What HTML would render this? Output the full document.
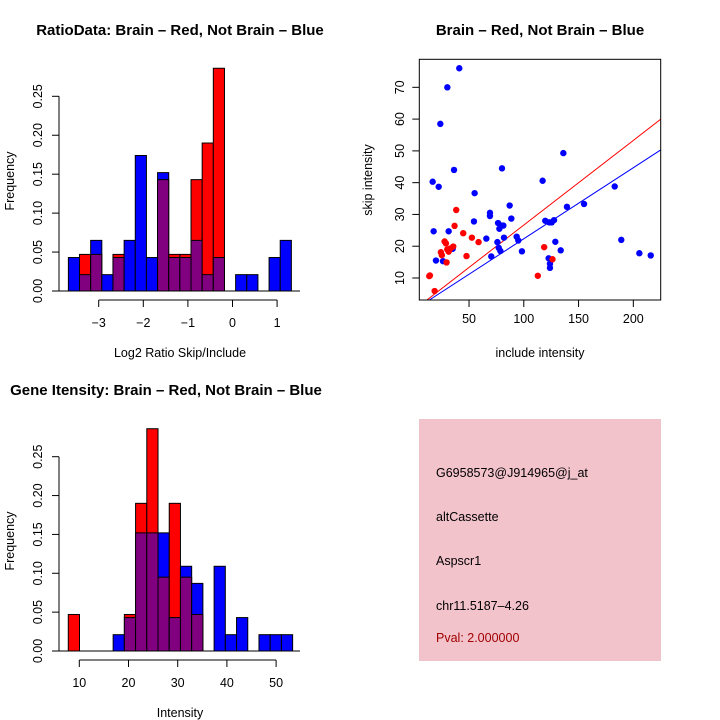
<!DOCTYPE html>
<html><head><meta charset="utf-8"><style>
html,body{margin:0;padding:0;background:#fff;}
svg{display:block;font-family:"Liberation Sans",sans-serif;}
</style></head><body>
<svg id="c" width="720" height="720" viewBox="0 0 720 720">
<rect width="720" height="720" fill="#fff"/>
<g id="h1"></g>
<g id="sc"></g>
<g id="h2"></g>
<g>
<rect x="419" y="419" width="242" height="242" fill="#f3c3cc"/>
<g font-size="12.5">
<text x="436" y="477" fill="#000">G6958573@J914965@j_at</text>
<text x="436" y="521" fill="#000">altCassette</text>
<text x="436" y="565" fill="#000">Aspscr1</text>
<text x="436" y="610" fill="#000">chr11.5187–4.26</text>
<text x="436" y="642" fill="#a00000">Pval: 2.000000</text>
</g></g>
</svg>
<script>
// ---- Ratio histogram data ----
const ratioBinStart = -3.68;
const ratioBinWidth = 0.25;
const ratioBlue = [0.043,0.021,0.065,0.021,0.043,0.065,0.174,0.043,0.152,0.043,0.043,0.065,0.021,0.043,0,0.021,0.021,0,0.043,0.065];
const ratioRed  = [0,0.047,0.047,0,0.047,0,0,0,0.143,0.047,0.047,0.143,0.190,0.286,0,0,0,0,0,0];
const ratioXTicks = [-3,-2,-1,0,1];
const freqTicks = [0,0.05,0.10,0.15,0.20,0.25];
const freqTickLabels = ["0.00","0.05","0.10","0.15","0.20","0.25"];
// ---- Intensity histogram data ----
const intBinStart = 7.76;
const intBinWidth = 2.28;
const intBlue = [0,0,0,0,0.021,0.043,0.152,0.152,0.152,0.043,0.109,0.087,0,0.109,0.021,0.043,0,0.021,0.021,0.021];
const intRed  = [0.047,0,0,0,0,0.047,0.190,0.286,0.095,0.190,0.095,0.047,0,0,0,0,0,0,0,0];
const intXTicks = [10,20,30,40,50];
// ---- Scatter data ----
const blueX = [41.1,30.2,23.8,16.8,22.3,36.3,17.7,19.8,26.2,31.4,35.1,54.5,55.1,65.8,69.1,69.1,76.5,75.9,77.7,77.1,78.6,80.1,79.5,81.3,81.9,87.1,88.6,70.3,93.5,95,98.3,117.2,119.6,123.3,125.5,127.6,128.8,122.7,123.9,123.9,133.7,136.1,139.4,155,183,189,205.5,215.9];
const blueY = [76,70,58.5,40.3,38.7,44,24.7,15.5,15.3,24.7,19.2,27.8,36.7,22.4,30.5,29.5,27.3,21.3,25.5,19.5,18.5,44.5,26.5,26.5,22.7,32.8,28.7,16.8,23,21.8,18.4,40.6,28,27.5,27.5,28.2,21.4,16.2,14.5,13.2,18.7,49.3,32.4,33.3,38.8,22,17.8,17.1];
const redX = [13.7,14.3,18.6,24.3,25.2,27.7,28.9,30.1,29.5,35.6,36.8,38.3,44.7,47.7,52.6,58.7,112.8,118.6,126.2,33,31.4];
const redY = [10.6,10.8,5.9,18.1,17.2,21.5,20.9,19.0,14.9,19.9,26.4,31.4,24.1,16.9,22.7,21.3,10.7,19.7,15.9,19.3,18.3];
const redSlope = 0.2665, blueSlope = 0.2235;
const scXTicks = [50,100,150,200];
const scYTicks = [10,20,30,40,50,60,70];

const NS="http://www.w3.org/2000/svg";
function mk(p,tag,a){const e=document.createElementNS(NS,tag);for(const k in a)e.setAttribute(k,a[k]);p.appendChild(e);return e;}
function txt(p,x,y,s,a){const e=mk(p,'text',Object.assign({x:x,y:y,'text-anchor':'middle','font-size':12.5},a||{}));e.textContent=s;return e;}

function hist(g,o){
  const X=v=>o.x0px+(v-o.xv0)*o.pxPerUnit;
  const Y=v=>o.y0-v*o.pxPerFreq;
  const n=o.blue.length;
  for(let i=0;i<n;i++){
    const b=o.blue[i], r=o.red[i];
    const xl=X(o.start+i*o.w), xr=X(o.start+(i+1)*o.w);
    const mx=Math.max(b,r), mn=Math.min(b,r);
    if(mx>0){
      const el=mk(g,'rect',{x:xl,y:Y(mx),width:xr-xl,height:Y(0)-Y(mx),fill:(b>=r?'#0000ff':'#ff0000'),stroke:'#000','stroke-width':1});
      
      
    }
    if(mn>0){
      const el=mk(g,'rect',{x:xl,y:Y(mn),width:xr-xl,height:Y(0)-Y(mn),fill:'#800080',stroke:'#000','stroke-width':1});
      
      
    }
  }
  mk(g,'line',{x1:59,x2:300,y1:o.y0,y2:o.y0,stroke:'#000'});
  const ya=mk(g,'g',{});
  
  
  mk(ya,'line',{x1:59,x2:59,y1:Y(0),y2:Y(0.25),stroke:'#000'});
  freqTicks.forEach((t,i)=>{
    mk(ya,'line',{x1:52,x2:59,y1:Y(t),y2:Y(t),stroke:'#000'});
    const tl=txt(ya,38,Y(t)+4,freqTickLabels[i],{transform:`rotate(-90 38 ${Y(t)})`});
    
    
  });
  const xa=mk(g,'g',{});
  
  
  const ay=o.y0+9;
  mk(xa,'line',{x1:X(o.ticks[0]),x2:X(o.ticks[o.ticks.length-1]),y1:ay,y2:ay,stroke:'#000'});
  o.ticks.forEach(t=>{
    mk(xa,'line',{x1:X(t),x2:X(t),y1:ay,y2:ay+7,stroke:'#000'});
    const tl=txt(xa,X(t),ay+27,String(t).replace('-','−'));
    
    
  });
  const yl=txt(g,14,o.y0-110,'Frequency',{transform:`rotate(-90 14 ${o.y0-110})`});
  
  
  const xl=txt(g,o.xlabX,o.xlabY,o.xlab);
  
  
  const tt=txt(g,o.titleX,o.titleY,o.title,{'font-size':15,'font-weight':'bold'});
  
  
}
hist(document.getElementById('h1'),{blue:ratioBlue,red:ratioRed,start:ratioBinStart,w:ratioBinWidth,x0px:98.7,xv0:-3,pxPerUnit:44.6,y0:291,pxPerFreq:778.8,ticks:ratioXTicks,xlab:'Log2 Ratio Skip/Include',xlabX:180,xlabY:357,title:'RatioData: Brain – Red, Not Brain – Blue',titleX:180,titleY:35});
hist(document.getElementById('h2'),{blue:intBlue,red:intRed,start:intBinStart,w:intBinWidth,x0px:79.3,xv0:10,pxPerUnit:4.92,y0:651,pxPerFreq:777.2,ticks:intXTicks,xlab:'Intensity',xlabX:180,xlabY:717,title:'Gene Itensity: Brain – Red, Not Brain – Blue',titleX:166,titleY:395});

(function(){
  const g=document.getElementById('sc');
  const L=419.3,R=660.7,T=59.3,B=300;
  const X=v=>L+(v-4.6)*1.0953;
  const Y=v=>278-(v-10)*3.178;
  const clip=mk(g,'clipPath',{id:'scclip'});mk(clip,'rect',{x:L,y:T,width:R-L,height:B-T});
  const lg=mk(g,'g',{'clip-path':'url(#scclip)'});
  const rl=mk(lg,'line',{x1:X(0),y1:Y(0),x2:X(240),y2:Y(240*redSlope),stroke:'#ff0000','stroke-width':1});
  
  
  const bl=mk(lg,'line',{x1:X(0),y1:Y(0),x2:X(240),y2:Y(240*blueSlope),stroke:'#0000ff','stroke-width':1});
  
  
  blueX.forEach((x,i)=>{const c=mk(g,'circle',{cx:X(x),cy:Y(blueY[i]),r:3.2,fill:'#0000ff'});
    
    });
  redX.forEach((x,i)=>{const c=mk(g,'circle',{cx:X(x),cy:Y(redY[i]),r:3.2,fill:'#ff0000'});
    
    });
  mk(g,'rect',{x:L,y:T,width:R-L,height:B-T,fill:'none',stroke:'#000'});
  scXTicks.forEach(t=>{mk(g,'line',{x1:X(t),x2:X(t),y1:B,y2:B+7,stroke:'#000'});
    const tl=txt(g,X(t),323,String(t));
    
    });
  scYTicks.forEach(t=>{mk(g,'line',{x1:L-7,x2:L,y1:Y(t),y2:Y(t),stroke:'#000'});
    const tl=txt(g,400,Y(t)+4,String(t),{transform:`rotate(-90 400 ${Y(t)})`});
    
    });
  const xl=txt(g,540,357,'include intensity');
  
  
  const yl=txt(g,372,180,'skip intensity',{transform:'rotate(-90 372 180)'});
  
  
  const tt=txt(g,540,35,'Brain – Red, Not Brain – Blue',{'font-size':15,'font-weight':'bold'});
  
  
})();
</script>
</body></html>
